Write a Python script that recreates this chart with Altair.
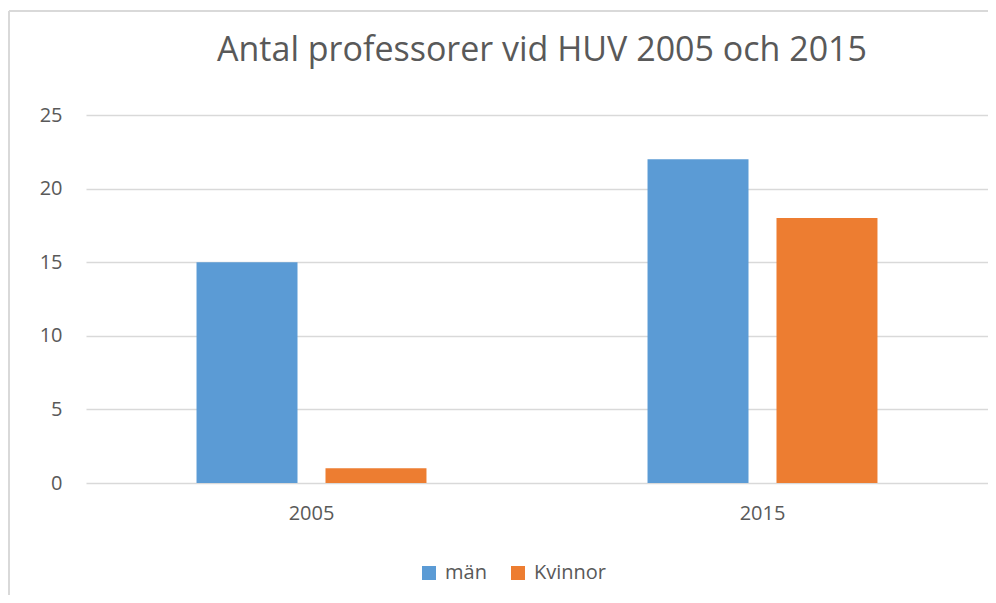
import altair as alt
import pandas as pd

years = ["2005", "2015"]
series = ["män", "Kvinnor"]
man_values = [15, 22]
kvinnor_values = [1, 18]
colors = ["#5B9BD5", "#ED7D31"]
y_ticks = [0, 5, 10, 15, 20, 25]

rows = []
for i, y in enumerate(years):
    rows.append({"year": y, "serie": series[0], "value": man_values[i]})
    rows.append({"year": y, "serie": series[1], "value": kvinnor_values[i]})
df = pd.DataFrame(rows)

FONT = "Open Sans"
TXT = "#595959"

bars = alt.Chart(df).mark_bar().encode(
    x=alt.X("year:N", title=None, sort=years,
            scale=alt.Scale(paddingInner=0, paddingOuter=0),
            axis=alt.Axis(labelAngle=0, labelFontSize=20, labelColor=TXT, labelFont=FONT,
                          labelPadding=20, domain=False, ticks=False, grid=False)),
    xOffset=alt.XOffset("serie:N", sort=series,
                        scale=alt.Scale(paddingInner=0.217, paddingOuter=0.857)),
    y=alt.Y("value:Q", title=None,
            scale=alt.Scale(domain=[0, 25], nice=False),
            axis=alt.Axis(values=y_ticks, labelFontSize=20, labelColor=TXT, labelFont=FONT,
                          labelPadding=24, domain=False, ticks=False, grid=True,
                          gridColor="#D9D9D9", gridWidth=1.5)),
    color=alt.Color("serie:N", sort=series,
                    scale=alt.Scale(domain=series, range=colors),
                    legend=alt.Legend(orient="none", legendX=333, legendY=448,
                                      direction="horizontal", title=None,
                                      symbolType="square", symbolSize=196,
                                      symbolStrokeWidth=0, symbolOpacity=1,
                                      labelFontSize=20, labelColor=TXT, labelFont=FONT,
                                      labelOffset=6, columnPadding=21)),
)

border_left = alt.Chart(df).mark_rule(color="#D9D9D9", strokeWidth=1.5).encode(
    x=alt.value(-77), y=alt.value(-104), y2=alt.value(600))
border_top = alt.Chart(df).mark_rule(color="#D9D9D9", strokeWidth=1.5).encode(
    y=alt.value(-104), x=alt.value(-77), x2=alt.value(1000))

chart = alt.layer(border_left, border_top, bars).properties(
    width=902, height=368,
    title=alt.TitleParams("Antal professorer vid HUV 2005 och 2015", fontSize=34,
                          font=FONT, color=TXT, fontWeight="normal",
                          anchor="middle", baseline="alphabetic", offset=-85, dx=5),
    autosize=alt.AutoSizeParams(type="none"),
    padding={"left": 78, "top": 107, "right": 0, "bottom": 112},
).configure_view(stroke=None)

chart.save("out.html", embed_options={"renderer": "svg", "actions": False})
